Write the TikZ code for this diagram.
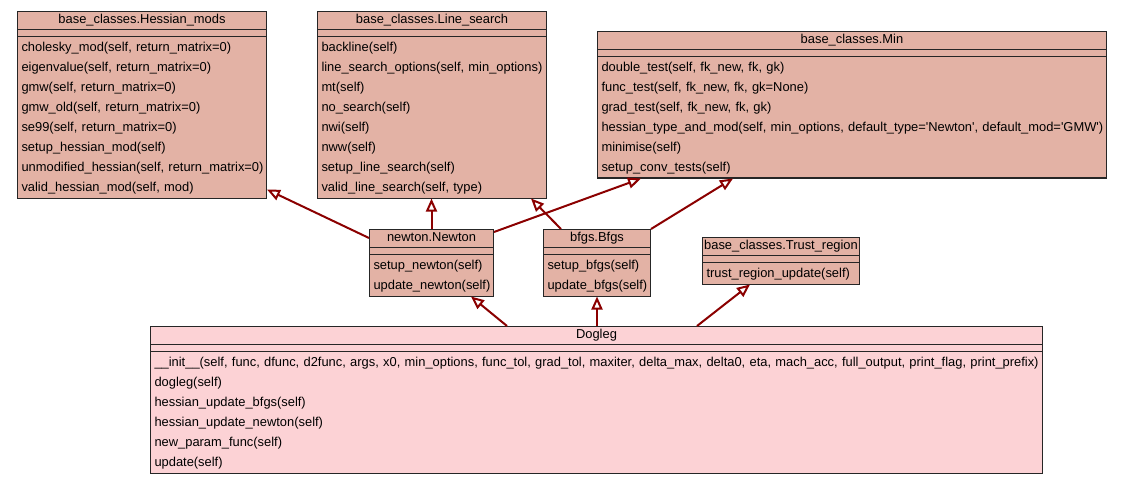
\documentclass[tikz,border=0pt]{standalone}
\usepackage{fontspec}
\setmainfont{Liberation Sans}
\usetikzlibrary{arrows.meta, shapes.multipart, positioning}

\definecolor{clsfill}{HTML}{E3B2A5}
\definecolor{dogfill}{HTML}{FCD2D5}
\definecolor{arrowred}{HTML}{8B0000}

\newcommand{\clstitle}[1]{\rule[-5pt]{0pt}{16.8pt}\makebox[\linewidth]{#1}}
\newcommand{\clsfirst}{\rightskip=0pt plus 1fil minus 300pt\relax\hyphenpenalty=10000\relax\rule{0pt}{14.2pt}}
\newcommand{\clslast}{\rule[-6pt]{0pt}{6pt}}
\newcommand{\clsempty}{\rule{0pt}{6.5pt}}

\tikzset{
	umlclass/.style={rectangle split, rectangle split parts=3, draw=black!85, line width=1pt,
		fill=clsfill, text width=#1, inner xsep=4pt, inner ysep=0pt,
		anchor=north west, font=\fontsize{12.9}{20}\selectfont},
	inherit/.style={color=arrowred, line width=2pt,
		-{Triangle[open, length=13pt, width=11pt, fill=white]}}
}

\begin{document}
\begin{tikzpicture}[x=1pt, y=-1pt]
	\path[use as bounding box, fill=white] (0,0) rectangle (1122,484);

	\node[umlclass=241pt] (hess) at (17,11) {\clstitle{base\_classes.Hessian\_mods}
		\nodepart{two}\clsempty
		\nodepart{three}\clsfirst cholesky\_mod(self, return\_matrix=0)\\
		eigenvalue(self, return\_matrix=0)\\
		gmw(self, return\_matrix=0)\\
		gmw\_old(self, return\_matrix=0)\\
		se99(self, return\_matrix=0)\\
		setup\_hessian\_mod(self)\\
		unmodified\_hessian(self, return\_matrix=0)\\
		valid\_hessian\_mod(self, mod)\clslast};

	\node[umlclass=221pt] (lsearch) at (317,11) {\clstitle{base\_classes.Line\_search}
		\nodepart{two}\clsempty
		\nodepart{three}\clsfirst backline(self)\\
		line\_search\_options(self, min\_options)\\
		mt(self)\\
		no\_search(self)\\
		nwi(self)\\
		nww(self)\\
		setup\_line\_search(self)\\
		valid\_line\_search(self, type)\clslast};

	\node[umlclass=501pt] (min) at (597,31) {\clstitle{base\_classes.Min}
		\nodepart{two}\clsempty
		\nodepart{three}\clsfirst double\_test(self, fk\_new, fk, gk)\\
		func\_test(self, fk\_new, fk, gk=None)\\
		grad\_test(self, fk\_new, fk, gk)\\
		hessian\_type\_and\_mod(self, min\_options, default\_type=\textquotesingle Newton\textquotesingle, default\_mod=\textquotesingle GMW\textquotesingle)\\
		minimise(self)\\
		setup\_conv\_tests(self)\clslast};

	\node[umlclass=116pt] (newton) at (369,229) {\clstitle{newton.Newton}
		\nodepart{two}\clsempty
		\nodepart{three}\clsfirst setup\_newton(self)\\
		update\_newton(self)\clslast};

	\node[umlclass=99pt] (bfgs) at (543,229) {\clstitle{bfgs.Bfgs}
		\nodepart{two}\clsempty
		\nodepart{three}\clsfirst setup\_bfgs(self)\\
		update\_bfgs(self)\clslast};

	\node[umlclass=149pt] (trust) at (702,237) {\clstitle{base\_classes.Trust\_region}
		\nodepart{two}\clsempty
		\nodepart{three}\clsfirst trust\_region\_update(self)\clslast};

	\node[umlclass=884pt, fill=dogfill] (dogleg) at (150,326) {\clstitle{Dogleg}
		\nodepart{two}\clsempty
		\nodepart{three}\clsfirst \_\_init\_\_(self, func, dfunc, d2func, args, x0, min\_options, func\_tol, grad\_tol, maxiter, delta\_max, delta0, eta, mach\_acc, full\_output, print\_flag, print\_prefix)\\
		dogleg(self)\\
		hessian\_update\_bfgs(self)\\
		hessian\_update\_newton(self)\\
		new\_param\_func(self)\\
		update(self)\clslast};

	\path[inherit] ([yshift=-9pt]newton.north west) edge ([yshift=9pt]hess.south east)
	(newton.north) edge (newton.north |- lsearch.south)
	([yshift=-3pt]newton.north east) edge ([xshift=44pt]min.south west)
	([xshift=18pt]bfgs.north west) edge ([xshift=-16pt]lsearch.south east)
	(bfgs.north east) edge ([xshift=136pt]min.south west)
	([xshift=357pt]dogleg.north west) edge ([xshift=-23pt]newton.south east)
	(bfgs.south |- dogleg.north) edge (bfgs.south)
	([xshift=547pt]dogleg.north west) edge ([xshift=48pt]trust.south west);
\end{tikzpicture}
\end{document}
